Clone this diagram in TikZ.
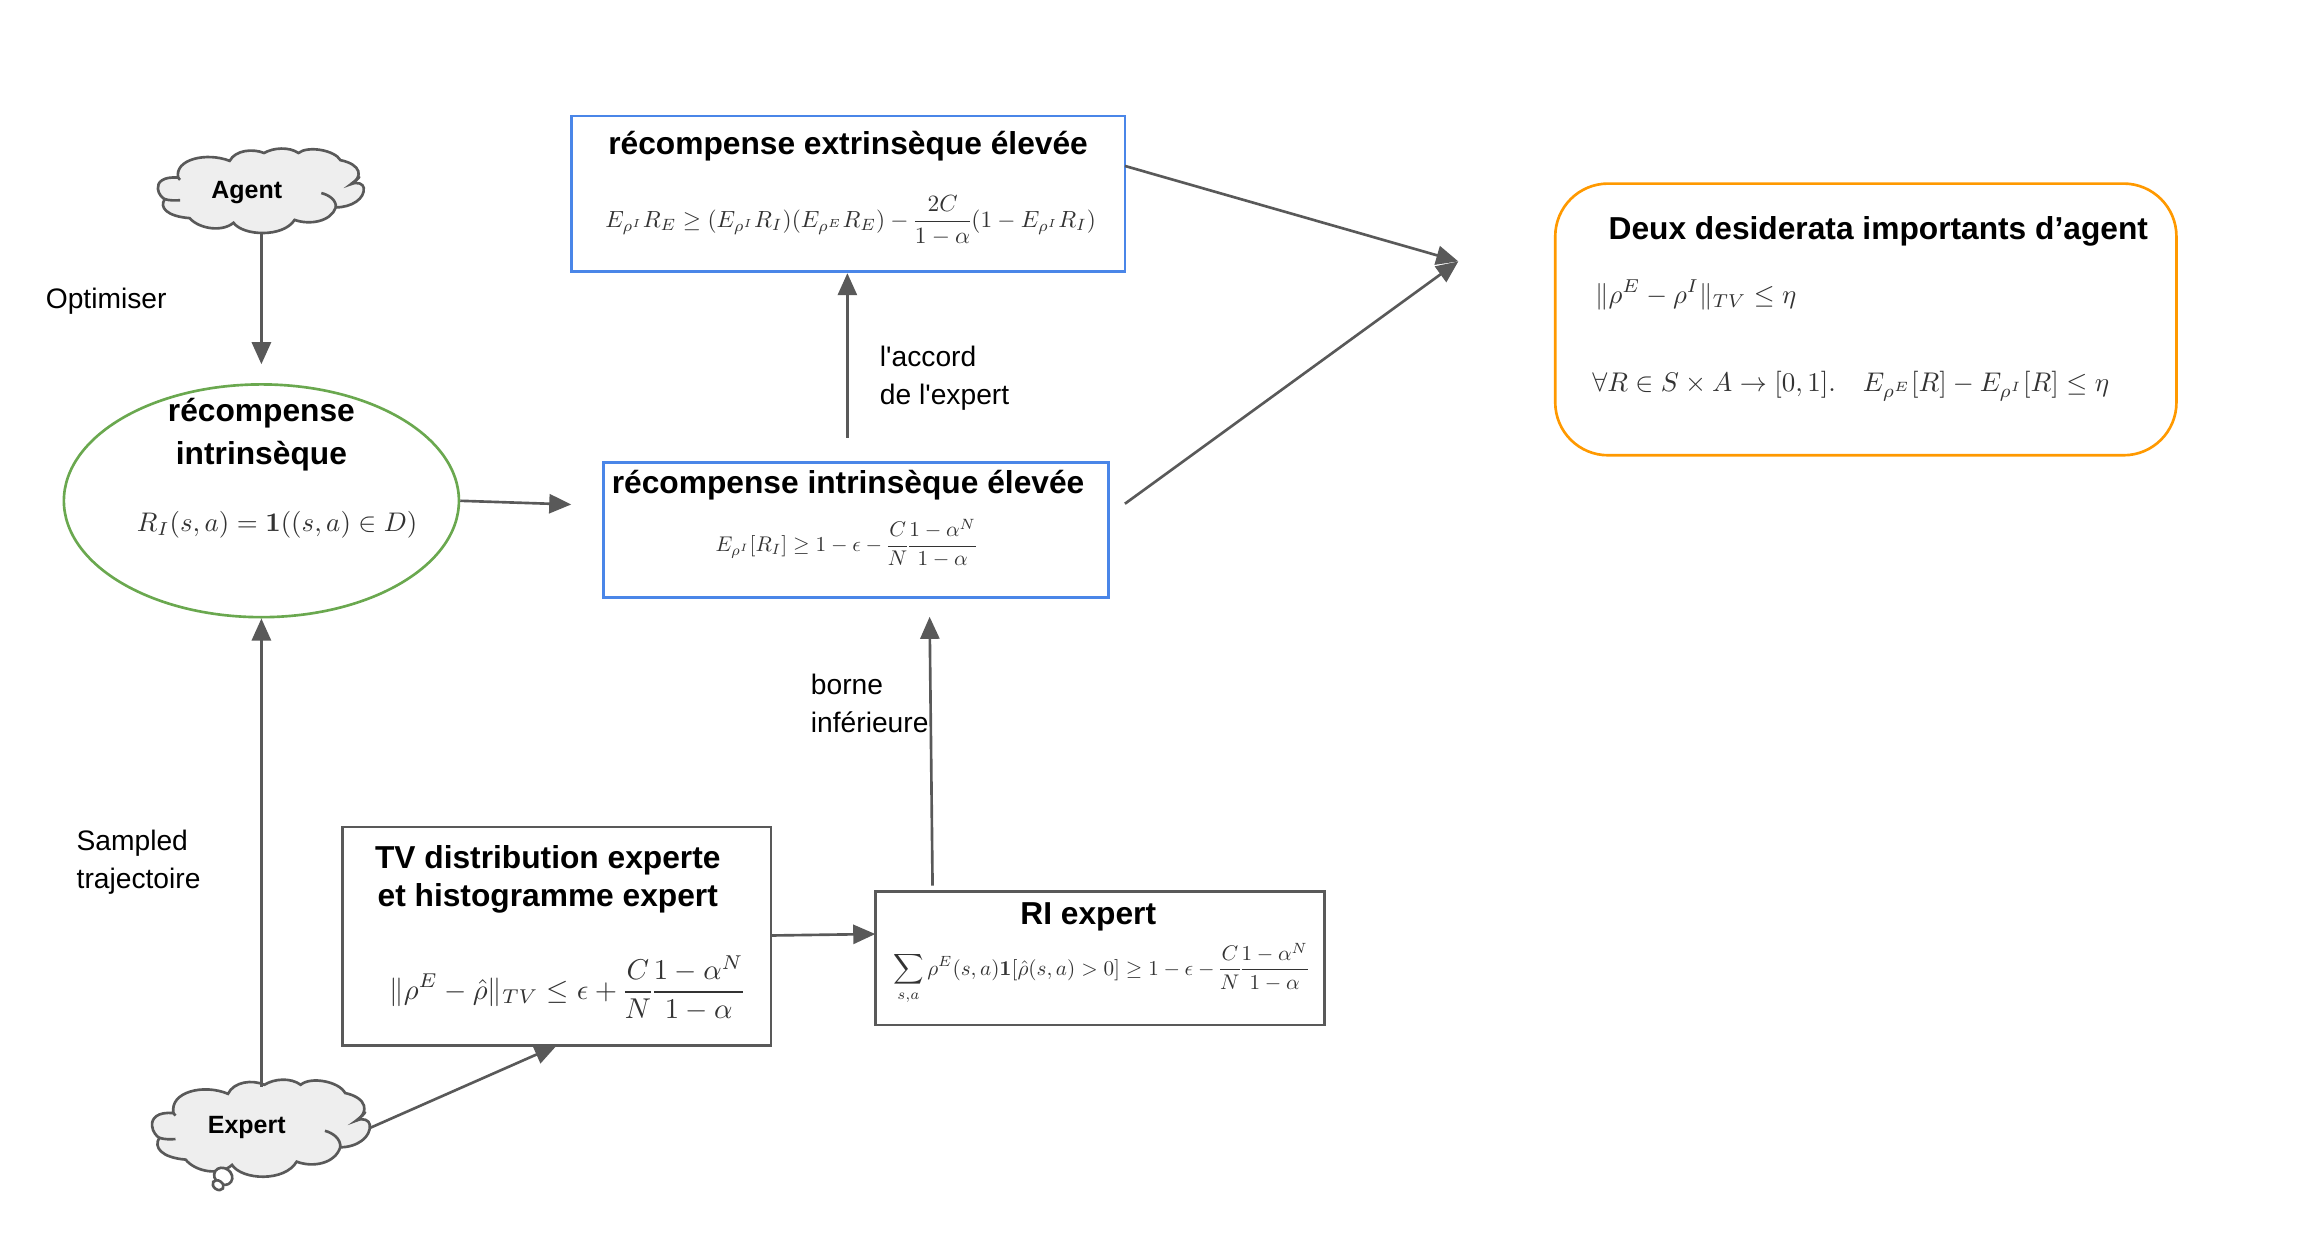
\documentclass[tikz,border=0pt]{standalone}
\usepackage[no-math]{fontspec}
\usepackage{graphicx}
\usepackage{amsmath,amssymb}
\setmainfont{Liberation Sans}
\setmonofont{Liberation Sans}
\usetikzlibrary{arrows.meta,shapes.geometric}
\definecolor{linegray}{HTML}{595959}
\definecolor{cloudfill}{HTML}{EEEEEE}
\definecolor{boxblue}{HTML}{4A86E8}
\definecolor{ellgreen}{HTML}{6AA84F}
\definecolor{boxorange}{HTML}{FF9900}
\definecolor{mathgray}{HTML}{333333}
\newcommand{\fitmath}[2]{\resizebox{#1pt}{!}{\color{mathgray}\nulldelimiterspace=0.5pt$\displaystyle #2$}}
\newcommand{\straightq}{{\ttfamily'}}
\newcommand{\drawcloud}[4]{%
\begin{scope}[shift={(#1,#2)},xscale=#3,yscale=#4]
\draw[cloudstroke,fill=cloudfill]
 (55,82) .. controls (15,78) and (0,95) .. (2,113) .. controls (3,128) and (15,140) .. (20,142)
 .. controls (5,165) and (25,190) .. (85,195)
 .. controls (110,225) and (170,235) .. (200,208)
 .. controls (225,245) and (330,250) .. (360,200)
 .. controls (400,215) and (455,205) .. (468,165)
 .. controls (510,165) and (545,140) .. (541,110) .. controls (540,100) and (525,92) .. (508,100)
 .. controls (540,80) and (535,45) .. (480,33)
 .. controls (465,5) and (395,-8) .. (370,13)
 .. controls (345,-5) and (305,-2) .. (280,13)
 .. controls (250,0) and (205,5) .. (190,35)
 .. controls (130,10) and (45,30) .. (55,82) -- cycle;
\draw[cloudstroke] (20,142) .. controls (32,146) and (48,146) .. (60,145);
\draw[cloudstroke] (55,82) .. controls (57,84) and (58,86) .. (60,88);
\draw[cloudstroke] (468,165) .. controls (470,145) and (450,130) .. (430,125);
\draw[cloudstroke] (508,100) .. controls (520,90) and (528,85) .. (530,78);
\end{scope}}
\tikzset{
 x=1pt,y=-1pt,
 cloudstroke/.style={draw=linegray,line width=1.8pt},
 conn/.style={draw=linegray,line width=1.8pt,-{Triangle[length=15pt,width=13pt,fill=linegray]}},
 bluebox/.style={draw=boxblue,line width=1.8pt,rectangle,inner sep=0pt},
 graybox/.style={draw=linegray,line width=1.8pt,rectangle,inner sep=0pt},
 titletext/.style={font=\fontsize{21.6}{26}\selectfont\bfseries,align=center,inner sep=0pt},
 cloudtext/.style={font=\fontsize{17}{20}\selectfont\bfseries,inner sep=0pt},
 labeltext/.style={font=\fontsize{19.2}{26}\selectfont,align=left,anchor=west,inner sep=0pt},
 mathnode/.style={inner sep=0pt,anchor=west},
}
\begin{document}
\begin{tikzpicture}
\useasboundingbox (0,0) rectangle (1567.5,849.1);
% clouds
\drawcloud{107}{101}{0.26}{0.2437}
\drawcloud{103}{735}{0.275}{0.28}
\draw[cloudstroke,fill=white,rotate around={-35:(152,801)}] (152,801) ellipse (6.5 and 5.5);
\draw[cloudstroke,fill=white,rotate around={-35:(148.5,807)}] (148.5,807) ellipse (4 and 3);
\node[cloudtext] (agent) at (168,131) {Agent};
\node[cloudtext] (expert) at (168,768) {Expert};
% shapes
\node[draw=ellgreen,line width=1.8pt,ellipse,inner sep=0pt,minimum width=269pt,minimum height=158.5pt] (ell) at (178,341) {};
\node[bluebox,minimum width=377pt,minimum height=106pt] (box1) at (577.5,132) {};
\node[bluebox,minimum width=344pt,minimum height=92pt] (box2) at (583,361) {};
\node[graybox,minimum width=292pt,minimum height=149pt] (tvbox) at (379,637.5) {};
\node[graybox,minimum width=306pt,minimum height=91pt] (ribox) at (749,652.5) {};
\node[draw=boxorange,line width=1.8pt,rectangle,rounded corners=36pt,inner sep=0pt,minimum width=423pt,minimum height=185pt] (want) at (1270.5,217.5) {};
% titles
\node[titletext] (t0) at (178,296) {récompense\\[3pt]intrinsèque};
\node[titletext] (t1) at (577.5,99.5) {récompense extrinsèque élevée};
\node[titletext] (t2) at (577.5,330.5) {récompense intrinsèque élevée};
\node[titletext] (t3) at (373,598.5) {TV distribution experte\\et histogramme expert};
\node[titletext] (t4) at (741,624.5) {RI expert};
\node[titletext] (t5) at (1279,157.5) {Deux desiderata importants d’agent};
% formulas
\node[mathnode] (f0) at (93,357) {\fitmath{191}{R_I(s,a)=\mathbf{1}((s,a)\in D)}};
\node[mathnode] (f1) at (412,150) {\fitmath{334}{E_{\rho^I}R_E\geq(E_{\rho^I}R_I)(E_{\rho^E}R_E)-\frac{2C}{1-\alpha}(1-E_{\rho^I}R_I)}};
\node[mathnode] (f2) at (487,370) {\fitmath{178}{E_{\rho^I}[R_I]\geq 1-\epsilon-\frac{C}{N}\frac{1-\alpha^N}{1-\alpha}}};
\node[mathnode] (f3) at (265,673) {\fitmath{242}{\|\rho^E-\hat{\rho}\|_{TV}\leq\epsilon+\frac{C}{N}\frac{1-\alpha^N}{1-\alpha}}};
\node[mathnode] (f4) at (608,663) {\fitmath{283}{\sum_{s,a}\rho^E(s,a)\mathbf{1}[\hat{\rho}(s,a)>0]\geq 1-\epsilon-\frac{C}{N}\frac{1-\alpha^N}{1-\alpha}}};
\node[mathnode] (f5) at (1086,201) {\fitmath{137}{\|\rho^E-\rho^I\|_{TV}\leq\eta}};
\node[mathnode] (f6) at (1084,263) {\fitmath{352}{\forall R\in S\times A\to[0,1].\quad E_{\rho^E}[R]-E_{\rho^I}[R]\leq\eta}};
% labels
\node[labeltext] (l0) at (31,205) {Optimiser};
\node[labeltext] (l1) at (599,257.5) {l\straightq accord\\de l\straightq expert};
\node[labeltext] (l2) at (552,479) {borne\\inférieure};
\node[labeltext] (l3) at (52,587) {Sampled\\trajectoire};
% free ends
\coordinate (agentout) at (178,159);
\coordinate (ellin) at (178,248);
\coordinate (box1in) at (389,343.5);
\coordinate (box2up) at (577,298);
\coordinate (merge) at (993,178);
\coordinate (box1out) at (766,113);
\coordinate (box2out) at (766,343);
\coordinate (expertup) at (178,740);
\coordinate (expertright) at (252,768);
\coordinate (tvin) at (379,712);
\coordinate (tvout) at (525,637);
\coordinate (riin) at (596,636);
\coordinate (riup) at (635,603);
\coordinate (box2in) at (633,420);
\coordinate (box1bot) at (577,186);
% connectors
\draw[conn] (agentout) -- (ellin);
\draw[conn] (ell.east) -- (box1in);
\draw[conn] (box2up) -- (box1bot);
\draw[conn] (box1out) -- (merge);
\draw[conn] (box2out) -- (merge);
\draw[conn] (expertup) -- (ell.south);
\draw[conn] (expertright) -- (tvin);
\draw[conn] (tvout) -- (riin);
\draw[conn] (riup) -- (box2in);
\end{tikzpicture}
\end{document}
